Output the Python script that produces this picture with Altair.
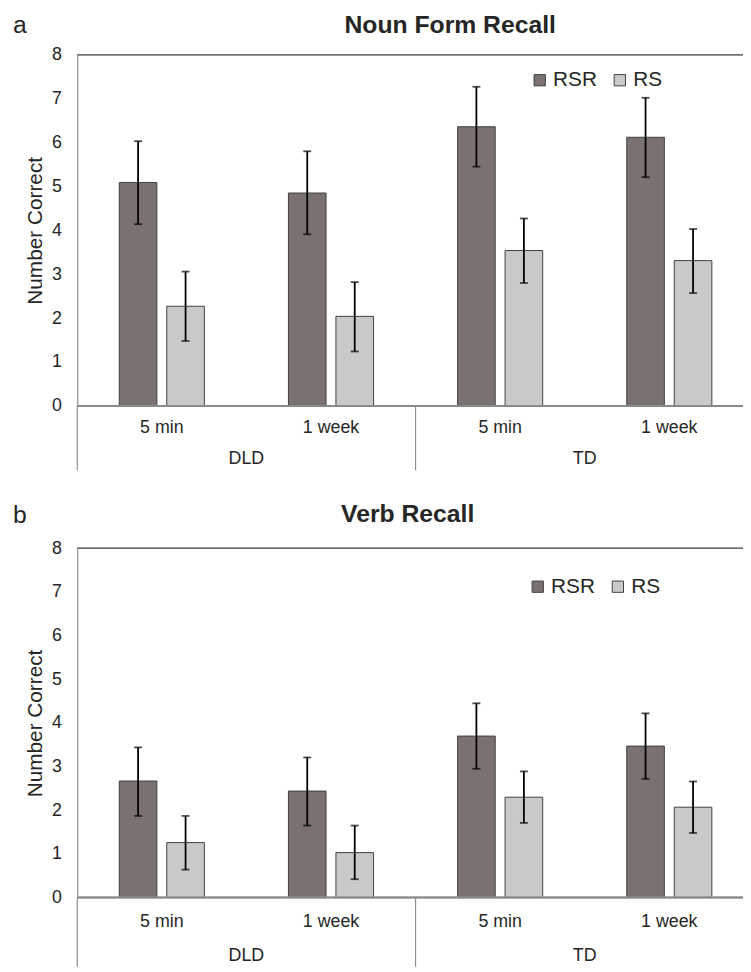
import altair as alt
import pandas as pd

# ---------------- data ----------------
groups = ["DLD", "DLD", "TD", "TD"]
times = ["5 min", "1 week", "5 min", "1 week"]
conditions = ["RSR", "RS"]

noun_rsr = [5.09, 4.85, 6.36, 6.12]
noun_rsr_lo = [4.14, 3.91, 5.45, 5.21]
noun_rsr_hi = [6.03, 5.80, 7.27, 7.02]
noun_rs = [2.27, 2.04, 3.54, 3.31]
noun_rs_lo = [1.48, 1.24, 2.80, 2.57]
noun_rs_hi = [3.06, 2.82, 4.27, 4.03]

verb_rsr = [2.67, 2.44, 3.70, 3.47]
verb_rsr_lo = [1.87, 1.65, 2.95, 2.72]
verb_rsr_hi = [3.44, 3.21, 4.45, 4.22]
verb_rs = [1.26, 1.03, 2.30, 2.07]
verb_rs_lo = [0.64, 0.42, 1.71, 1.48]
verb_rs_hi = [1.87, 1.65, 2.89, 2.66]

y_ticks = [0, 1, 2, 3, 4, 5, 6, 7, 8]

cats = [g + "|" + t for g, t in zip(groups, times)]

TC = "#262626"
FONT = "Liberation Sans"
W = 684


def make_df(rsr, rsr_lo, rsr_hi, rs, rs_lo, rs_hi):
    rows = []
    for i, c in enumerate(cats):
        rows.append(dict(cat=c, cond="RSR", mean=rsr[i], lo=rsr_lo[i], hi=rsr_hi[i]))
        rows.append(dict(cat=c, cond="RS", mean=rs[i], lo=rs_lo[i], hi=rs_hi[i]))
    return pd.DataFrame(rows)


cat_df = pd.DataFrame({"cat": cats, "time": times, "group": groups})
grp_df = pd.DataFrame({"cat": [cats[1], cats[3]], "group": [groups[1], groups[3]]})
sep_df = pd.DataFrame({"cat": [cats[0], cats[2]]})


def xs(band_pos=None):
    kw = dict(
        sort=cats,
        scale=alt.Scale(domain=cats, paddingInner=0, paddingOuter=0),
        axis=None,
    )
    if band_pos is not None:
        kw["bandPosition"] = band_pos
    return alt.X("cat:N", **kw)


xo = alt.XOffset(
    "cond:N",
    sort=conditions,
    scale=alt.Scale(domain=conditions, paddingInner=0.208, paddingOuter=0.885),
)


def panel(df, title, letter, height, title_x, title_y, letter_y, leg_x, leg_y,
          time_dy, group_dy, sep_len):
    base = alt.Chart(df)
    yscale = alt.Scale(domain=[0, 8], nice=False)
    bars = base.mark_bar(stroke="#404040", strokeWidth=1).encode(
        x=xs(),
        xOffset=xo,
        y=alt.Y(
            "mean:Q",
            scale=yscale,
            axis=alt.Axis(
                values=y_ticks,
                title="Number Correct",
                grid=False,
                ticks=False,
                domainColor="#8c8c8c",
                domainWidth=1.2,
                labelFontSize=18,
                labelFont=FONT,
                labelColor=TC,
                labelPadding=16,
                titleFontSize=21,
                titleFont=FONT,
                titleFontWeight="normal",
                titleColor=TC,
                titlePadding=6,
            ),
        ),
        color=alt.Color(
            "cond:N",
            sort=conditions,
            scale=alt.Scale(domain=conditions, range=["#7b7171", "#c9c9c9"]),
            legend=alt.Legend(
                orient="none",
                legendX=leg_x,
                legendY=leg_y,
                direction="horizontal",
                title=None,
                labelFontSize=21,
                labelFont=FONT,
                labelColor=TC,
                symbolType="square",
                symbolSize=130,
                symbolStrokeColor="#404040",
                symbolStrokeWidth=1,
                labelOffset=3,
                columnPadding=12,
            ),
        ),
    )
    err = base.mark_rule(color="black", strokeWidth=1.8).encode(
        x=xs(), xOffset=xo, y="lo:Q", y2="hi:Q"
    )
    cap_lo = base.mark_tick(color="black", thickness=1.8, size=8).encode(
        x=xs(), xOffset=xo, y="lo:Q"
    )
    cap_hi = base.mark_tick(color="black", thickness=1.8, size=8).encode(
        x=xs(), xOffset=xo, y="hi:Q"
    )
    top_line = alt.Chart(cat_df).mark_rule(color="#6e6e6e", strokeWidth=1.2).encode(
        y=alt.datum(8, scale=yscale)
    )
    zero_line = alt.Chart(cat_df).mark_rule(color="#8a8a8a", strokeWidth=1.5).encode(
        y=alt.datum(0, scale=yscale)
    )
    seps = alt.Chart(sep_df).mark_rule(color="#8c8c8c", strokeWidth=1.2).encode(
        x=xs(0), y=alt.value(height), y2=alt.value(height + sep_len)
    )
    time_labels = alt.Chart(cat_df).mark_text(
        fontSize=18, font=FONT, color=TC, baseline="middle"
    ).encode(x=xs(), y=alt.value(height + time_dy), text="time:N")
    group_labels = alt.Chart(grp_df).mark_text(
        fontSize=18, font=FONT, color=TC, baseline="middle"
    ).encode(x=xs(0), y=alt.value(height + group_dy), text="group:N")
    title_df = pd.DataFrame({"t": [title], "l": [letter]})
    title_txt = alt.Chart(title_df).mark_text(
        fontSize=25, font=FONT, fontWeight="bold", color=TC, baseline="middle"
    ).encode(x=alt.value(title_x), y=alt.value(title_y), text="t:N")
    letter_txt = alt.Chart(title_df).mark_text(
        fontSize=25, font=FONT, color=TC, baseline="middle", align="left"
    ).encode(x=alt.value(-65), y=alt.value(letter_y), text="l:N")
    return alt.layer(
        bars, zero_line, top_line, err, cap_lo, cap_hi, seps, time_labels,
        group_labels, title_txt, letter_txt
    ).properties(width=W, height=height)


noun_df = make_df(noun_rsr, noun_rsr_lo, noun_rsr_hi, noun_rs, noun_rs_lo, noun_rs_hi)
verb_df = make_df(verb_rsr, verb_rsr_lo, verb_rsr_hi, verb_rs, verb_rs_lo, verb_rs_hi)

top = panel(noun_df, "Noun Form Recall", "a", 355, 377, -30, -30, 457, 15,
            22, 54, 65)
bottom = panel(verb_df, "Verb Recall", "b", 353, 334, -35, -33.5, 455, 28,
               25, 59, 70)

chart = (
    alt.vconcat(top, bottom, spacing=31)
    .resolve_scale(color="independent")
    .properties(padding={"left": 5, "top": 0, "right": -12, "bottom": 0})
    .configure_view(strokeWidth=0)
)

chart.save("out.html", embed_options={"renderer": "svg", "actions": False})
